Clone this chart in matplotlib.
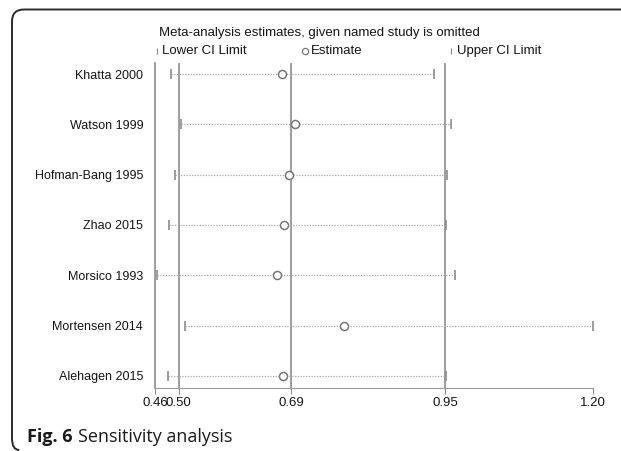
import matplotlib
matplotlib.use("Agg")
import matplotlib.pyplot as plt
from matplotlib.path import Path
from matplotlib.patches import PathPatch
from matplotlib.lines import Line2D

# data
studies = ["Khatta 2000", "Watson 1999", "Hofman-Bang 1995", "Zhao 2015",
           "Morsico 1993", "Mortensen 2014", "Alehagen 2015"]
estimate = [0.674, 0.696, 0.687, 0.678, 0.666, 0.780, 0.677]
lower = [0.487, 0.504, 0.493, 0.483, 0.463, 0.510, 0.482]
upper = [0.932, 0.960, 0.953, 0.952, 0.967, 1.200, 0.952]
ref_lines = [0.50, 0.69, 0.95]
xticks = [0.46, 0.50, 0.69, 0.95, 1.20]
xticklabels = ["0.46", "0.50", "0.69", "0.95", "1.20"]

W, H = 621, 451
plt.rcParams['font.family'] = ['Liberation Sans', 'DejaVu Sans']
fig = plt.figure(figsize=(W / 100, H / 100), dpi=100)

def fx(px):
    return px / W

def fy(py):
    return 1 - py / H

ax = fig.add_axes([fx(155), fy(388), fx(593) - fx(155), fy(63) - fy(388)])

line_c = "#8c8c8c"
dot_c = "#a8a8a8"
txt_c = "#151515"
rows = list(range(1, len(studies) + 1))

for x in ref_lines:
    ax.axvline(x, color=line_c, lw=1.2, zorder=1)

for y, lo, hi, est in zip(rows, lower, upper, estimate):
    ax.plot([lo, hi], [y, y], ls=(0, (1, 1.2)), color=dot_c, lw=0.9, zorder=2)
ax.plot(lower, rows, ls="none", marker="|", ms=6.5, mew=1.2, color=line_c, zorder=3)
ax.plot(upper, rows, ls="none", marker="|", ms=6.5, mew=1.2, color=line_c, zorder=3)
ax.plot(estimate, rows, ls="none", marker="o", ms=5.8, mfc="white", mec="#777777",
        mew=1.1, zorder=4)

ax.set_xlim(0.46, 1.20)
ax.set_ylim(7.24, 0.78)
ax.set_xticks(xticks)
ax.set_xticklabels(xticklabels, fontsize=9.5, color=txt_c)
ax.set_yticks(rows)
ax.set_yticklabels(studies, fontsize=9, color=txt_c)
ax.tick_params(axis="y", length=0, pad=8.5)
ax.tick_params(axis="x", length=4, width=0.8, color=line_c, pad=2.5)
for s in ["top", "right"]:
    ax.spines[s].set_visible(False)
ax.spines["left"].set_color(line_c)
ax.spines["left"].set_linewidth(1.2)
ax.spines["bottom"].set_color("#9a9a9a")
ax.spines["bottom"].set_linewidth(0.8)

# title and legend
fig.text(fx(159), fy(33), "Meta-analysis estimates, given named study is omitted",
         fontsize=9.5, color=txt_c, va="center", ha="left")
ly = fy(51)
fig.add_artist(Line2D([fx(157)], [ly], marker="|", ms=5, mew=0.9, color=line_c,
                      transform=fig.transFigure))
fig.text(fx(162), ly, "Lower CI Limit", fontsize=9.5, color=txt_c, va="center")
fig.add_artist(Line2D([fx(305)], [ly], marker="o", ms=4.5, mfc="white", mec="#7a7a7a",
                      mew=0.9, transform=fig.transFigure))
fig.text(fx(311), ly, "Estimate", fontsize=9.5, color=txt_c, va="center")
fig.add_artist(Line2D([fx(451)], [ly], marker="|", ms=5, mew=0.9, color=line_c,
                      transform=fig.transFigure))
fig.text(fx(457), ly, "Upper CI Limit", fontsize=9.5, color=txt_c, va="center")

# caption
t1 = fig.text(fx(27), fy(442), "Fig. 6", fontsize=13, fontweight="bold",
              family=["Open Sans", "DejaVu Sans"], color="#1a1a1a", va="baseline")
fig.canvas.draw()
bb = t1.get_window_extent()
fig.text(bb.x1 / W + fx(5), fy(442), "Sensitivity analysis", fontsize=13,
         family=["Open Sans", "DejaVu Sans"], color="#1a1a1a", va="baseline")

# rounded frame (left and top)
r = 12
verts = [(W + 2, 9.5), (12 + r, 9.5), (12, 9.5), (12, 9.5 + r),
         (12, 450 - r), (12, 450), (12 + r * 0.6, 450)]
codes = [Path.MOVETO, Path.LINETO, Path.CURVE3, Path.CURVE3,
         Path.LINETO, Path.CURVE3, Path.CURVE3]
verts = [(fx(a), fy(b)) for a, b in verts]
fig.add_artist(PathPatch(Path(verts, codes), fill=False, lw=1.4, ec="#2a2a2a",
                         transform=fig.transFigure))

fig.savefig("out.png", dpi=100)
